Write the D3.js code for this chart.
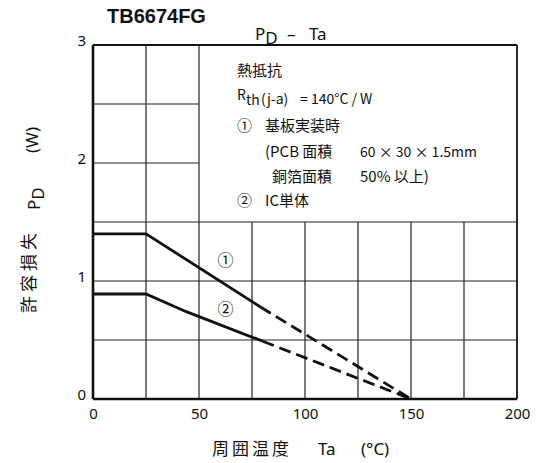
<!DOCTYPE html>
<html>
<head>
<meta charset="utf-8">
<script src="https://cdn.jsdelivr.net/npm/d3@7"></script>
<style>
  body { margin: 0; background: #fff; }
  text { font-family: "Noto Sans CJK JP", "Noto Sans", sans-serif; fill: #111; }
</style>
</head>
<body>
<div id="chart"></div>
<script>
// data
var xTicks = [0, 50, 100, 150, 200];
var yTicks = [0, 1, 2, 3];
var curve1Solid = [[0, 1.40], [25, 1.40], [79, 0.78]];
var curve1Dash = [[79, 0.78], [150, 0]];
var curve2Solid = [[0, 0.89], [25, 0.89], [44, 0.74], [80, 0.49]];
var curve2Dash = [[80, 0.49], [150, 0]];
var curveLabels = ["①", "②"];

var width = 536, height = 463;
var margin = {top: 45, right: 19, bottom: 64, left: 93};
var innerWidth = width - margin.left - margin.right;
var innerHeight = height - margin.top - margin.bottom;

var svg = d3.select("#chart").append("svg")
  .attr("width", width)
  .attr("height", height);

var g = svg.append("g")
  .attr("transform", "translate(" + margin.left + "," + margin.top + ")");

var x = d3.scaleLinear().domain([0, 200]).range([0, innerWidth]);
var y = d3.scaleLinear().domain([0, 3]).range([innerHeight, 0]);

// grid - the note box hides the lines in the upper right
var vGrid = [25, 50, 75, 100, 125, 150, 175];
g.selectAll(".vgrid").data(vGrid).enter().append("line")
  .attr("x1", function(d) { return x(d); })
  .attr("x2", function(d) { return x(d); })
  .attr("y1", y(0))
  .attr("y2", function(d) { return d <= 50 ? y(3) : y(1.5); })
  .attr("stroke", "#222").attr("stroke-width", 1.2);

var hGrid = [0.5, 1, 1.5, 2, 2.5];
g.selectAll(".hgrid").data(hGrid).enter().append("line")
  .attr("x1", x(0))
  .attr("x2", function(d) { return d <= 1.5 ? x(200) : x(50); })
  .attr("y1", function(d) { return y(d); })
  .attr("y2", function(d) { return y(d); })
  .attr("stroke", "#222").attr("stroke-width", 1.2);

// frame
g.append("line").attr("x1", x(0)).attr("x2", x(200)).attr("y1", y(3)).attr("y2", y(3))
  .attr("stroke", "#111").attr("stroke-width", 1.8);
g.append("line").attr("x1", x(200)).attr("x2", x(200)).attr("y1", y(0)).attr("y2", y(3))
  .attr("stroke", "#111").attr("stroke-width", 1.8);
g.append("line").attr("x1", x(0)).attr("x2", x(200)).attr("y1", y(0)).attr("y2", y(0))
  .attr("stroke", "#111").attr("stroke-width", 2.6);
g.append("line").attr("x1", x(0)).attr("x2", x(0)).attr("y1", y(0)).attr("y2", y(3))
  .attr("stroke", "#111").attr("stroke-width", 2.6);

// ticks
g.append("g")
  .attr("transform", "translate(0," + innerHeight + ")")
  .call(d3.axisBottom(x).tickValues(xTicks).tickFormat(d3.format("d")).tickSize(0).tickPadding(9))
  .call(function(a) { a.select(".domain").remove(); })
  .selectAll("text")
  .style("font-size", "15px")
  .style("font-family", "'Noto Sans', sans-serif")
  .attr("fill", "#111");

g.append("g")
  .call(d3.axisLeft(y).tickValues(yTicks).tickFormat(d3.format("d")).tickSize(0).tickPadding(7))
  .call(function(a) { a.select(".domain").remove(); })
  .selectAll("text")
  .style("font-size", "15px")
  .style("font-family", "'Noto Sans', sans-serif")
  .attr("fill", "#111")
  .attr("dy", "0.05em");

// curves
var line = d3.line().x(function(d) { return x(d[0]); }).y(function(d) { return y(d[1]); });
[curve1Solid, curve2Solid].forEach(function(c) {
  g.append("path").datum(c).attr("d", line)
    .attr("fill", "none").attr("stroke", "#111").attr("stroke-width", 2.8);
});
[curve1Dash, curve2Dash].forEach(function(c) {
  g.append("path").datum(c).attr("d", line)
    .attr("fill", "none").attr("stroke", "#111").attr("stroke-width", 2.8)
    .attr("stroke-dasharray", "12,6");
});

g.selectAll(".clabel").data(curveLabels).enter().append("text")
  .attr("x", x(62.5))
  .attr("y", function(d, i) { return i === 0 ? y(1.13) : y(0.71); })
  .attr("text-anchor", "middle")
  .style("font-size", "16px")
  .text(function(d) { return d; });

// note text
function note(tx, ty, s, size) {
  return svg.append("text").attr("x", tx).attr("y", ty)
    .style("font-size", (size || 15) + "px").text(s);
}
note(237, 76, "熱抵抗");
var rt = svg.append("text").attr("x", 237).attr("y", 104).style("font-size", "14px");
rt.append("tspan").attr("dy", "-4").text("R");
rt.append("tspan").attr("dy", "5").text("th");
note(261, 104, "(j-a)", 14);
note(300, 104, "= 140°C / W", 14);
note(237, 131, "①");
note(265, 131, "基板実装時");
note(265, 157, "(PCB 面積");
note(360, 157, "60 × 30 × 1.5mm", 14);
note(272, 182, "銅箔面積");
note(360, 182, "50% 以上)");
note(237, 206, "②");
note(265, 206, "IC単体");

// titles
svg.append("text").attr("x", 107).attr("y", 23)
  .style("font-family", "'Liberation Sans', Arial, sans-serif")
  .style("font-weight", "bold").style("font-size", "20px").text("TB6674FG");

var t2 = svg.append("text").attr("x", 255).attr("y", 40).style("font-size", "17px")
  .style("font-family", "'Noto Sans', sans-serif");
t2.append("tspan").text("P");
t2.append("tspan").attr("dy", "4").text("D");
svg.append("text").attr("x", 287).attr("y", 40).style("font-size", "17px")
  .style("font-family", "'Noto Sans', sans-serif").text("–");
svg.append("text").attr("x", 309).attr("y", 40).style("font-size", "17px")
  .style("font-family", "'Noto Sans', sans-serif").text("Ta");

// x label
svg.append("text").attr("x", 212).attr("y", 455)
  .style("font-size", "17px").style("letter-spacing", "3px").text("周囲温度");
svg.append("text").attr("x", 318).attr("y", 455)
  .style("font-size", "17px").style("font-family", "'Noto Sans', sans-serif").text("Ta");
svg.append("text").attr("x", 361).attr("y", 455)
  .style("font-size", "17px").style("font-family", "'Noto Sans', sans-serif").text("(°C)");

// y label
svg.append("text").attr("transform", "translate(35,313) rotate(-90)")
  .style("font-size", "17px").style("letter-spacing", "4px").text("許容損失");
var pd = svg.append("text").attr("transform", "translate(40,210) rotate(-90)")
  .style("font-size", "17px").style("font-family", "'Noto Sans', sans-serif");
pd.append("tspan").text("P");
pd.append("tspan").attr("dy", "4").text("D");
svg.append("text").attr("transform", "translate(38,153) rotate(-90)")
  .style("font-size", "17px").style("font-family", "'Noto Sans', sans-serif").text("(W)");
</script>
</body>
</html>
